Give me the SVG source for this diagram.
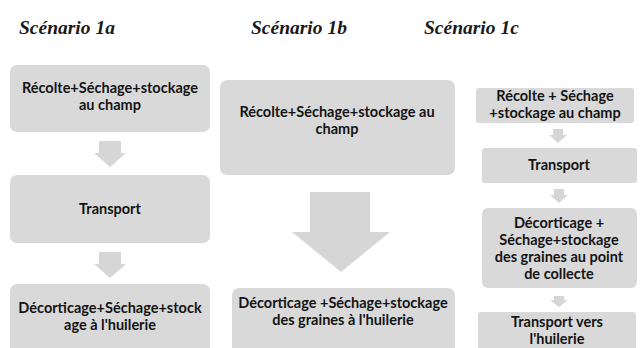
<svg xmlns="http://www.w3.org/2000/svg" width="640" height="348" viewBox="0 0 640 348">
  <style>
    .box { fill: #d9d9d9; }
    .arr { fill: #d6d6d6; }
    .t { font-family: Lato, "Liberation Sans", sans-serif; font-weight: bold; font-size: 14.5px; fill: #141414; text-anchor: middle; }
    .title { font-family: "Liberation Serif", serif; font-style: italic; font-weight: bold; font-size: 19.5px; fill: #1a1a1a; }
  </style>
  <rect width="640" height="348" fill="#ffffff"/>
  <g id="titles">
    <text class="title" x="19" y="34">Scénario 1a</text>
    <text class="title" x="251" y="34">Scénario 1b</text>
    <text class="title" x="424" y="34">Scénario 1c</text>
  </g>
  <g id="connectors">
    <polygon class="arr" points="99,141 121,141 121,153 126,153 110,167 94,153 99,153"/>
    <polygon class="arr" points="99,252 121,252 121,264 126,264 110,278 94,264 99,264"/>
    <polygon class="arr" points="310,192 370,192 370,232 390,232 341,272 292,232 310,232"/>
    <polygon class="arr" points="553,129 563,129 563,135 567,135 558,143 549,135 553,135"/>
    <polygon class="arr" points="554,189 564,189 564,195 568,195 559,203 550,195 554,195"/>
    <polygon class="arr" points="554,296 564,296 564,300 568,300 559,307 550,300 554,300"/>
  </g>
  <g id="a1"><rect class="box" x="10" y="65" width="200" height="67" rx="7"/>
    <text class="t" x="110" y="93">Récolte+Séchage+stockage</text>
    <text class="t" x="110" y="110">au champ</text></g>
  <g id="a2"><rect class="box" x="10" y="175" width="200" height="68" rx="7"/>
    <text class="t" x="110" y="214">Transport</text></g>
  <g id="a3"><rect class="box" x="10" y="284" width="200" height="80" rx="7"/>
    <text class="t" x="110" y="313">Décorticage+Séchage+stock</text>
    <text class="t" x="110" y="330">age à l'huilerie</text></g>
  <g id="b1"><rect class="box" x="220" y="80" width="235" height="95" rx="7"/>
    <text class="t" x="337" y="117">Récolte+Séchage+stockage au</text>
    <text class="t" x="337" y="134">champ</text></g>
  <g id="b2"><rect class="box" x="232" y="288" width="223" height="80" rx="7"/>
    <text class="t" x="343" y="308">Décorticage +Séchage+stockage</text>
    <text class="t" x="343" y="325">des graines à l'huilerie</text></g>
  <g id="c1"><rect class="box" x="476" y="88" width="158" height="35" rx="3"/>
    <text class="t" x="555" y="101">Récolte + Séchage</text>
    <text class="t" x="555" y="118">+stockage au champ</text></g>
  <g id="c2"><rect class="box" x="482" y="148" width="155" height="35" rx="3"/>
    <text class="t" x="559" y="170">Transport</text></g>
  <g id="c3"><rect class="box" x="482" y="208" width="155" height="80" rx="6"/>
    <text class="t" x="559" y="228">Décorticage +</text>
    <text class="t" x="559" y="245">Séchage+stockage</text>
    <text class="t" x="559" y="262">des graines au point</text>
    <text class="t" x="559" y="279">de collecte</text></g>
  <g id="c4"><rect class="box" x="478" y="312" width="158" height="50" rx="3"/>
    <text class="t" x="557" y="327">Transport vers</text>
    <text class="t" x="557" y="344">l'huilerie</text></g>
</svg>
